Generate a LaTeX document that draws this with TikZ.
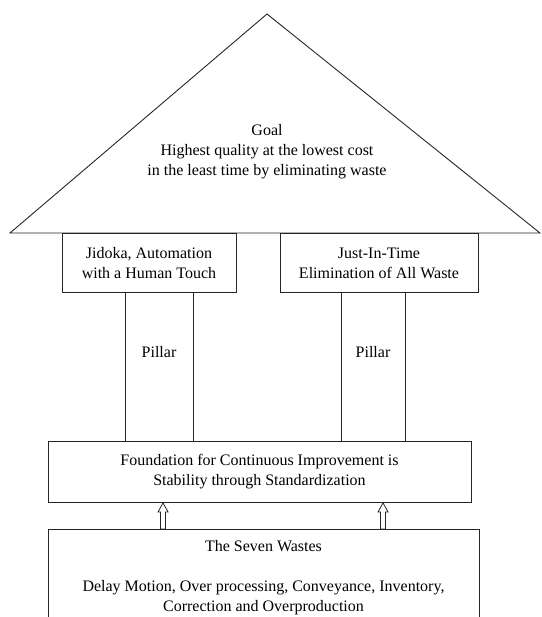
\documentclass[tikz,border=0pt]{standalone}
\usepackage{fontspec}
\setmainfont{Liberation Serif}
\usepackage{tikz}
\usetikzlibrary{positioning, calc}
\tikzset{
  line/.style={draw=black!85, line width=0.9pt},
  box/.style={line, align=center, inner sep=0pt,
    font=\fontsize{16}{20}\selectfont}
}

\begin{document}
\begin{tikzpicture}[x=1pt, y=-1pt]
    \useasboundingbox (0,0) rectangle (541,617);

    \coordinate (apex) at (267,14);
    \coordinate (eaveL) at (10,233);
    \coordinate (eaveR) at (540,233);
    \coordinate (a1) at (163,0);
    \coordinate (a2) at (383,0);

    % roof
    \draw [line, line join=miter] (eaveL) -- (apex) -- (eaveR) -- cycle;
    \node[align=center, font=\fontsize{16}{20}\selectfont] (goal) at (267,152) {Goal\\
      Highest quality at the lowest cost\\
      in the least time by eliminating waste};

    \node[box, minimum width=174pt, minimum height=59pt, anchor=north] (jidoka) at (149,233) {Jidoka, Automation\\
      with a Human Touch};
    \node[box, minimum width=198pt, minimum height=59pt, anchor=north] (jit) at (379,233) {Just-In-Time\\
      Elimination of All Waste};

    % pillars
    \node[box, minimum width=68pt, minimum height=149pt, anchor=north,
      label={[font=\fontsize{16}{20}\selectfont, yshift=15pt]center:Pillar}] (pillarL) at (159,292) {};
    \node[box, minimum width=64pt, minimum height=149pt, anchor=north,
      label={[font=\fontsize{16}{20}\selectfont, yshift=15pt]center:Pillar}] (pillarR) at (373,292) {};

    \node[box, minimum width=423pt, minimum height=61pt, anchor=north] (found) at (259.5,441) {Foundation for Continuous Improvement is\\
      Stability through Standardization};

    \node[box, minimum width=431pt, minimum height=96pt, anchor=north] (wastes) at (263.5,529) {The Seven Wastes\\[20pt]
      Delay Motion, Over processing, Conveyance, Inventory,\\
      Correction and Overproduction};

    % hollow arrows
    \foreach \a in {a1, a2}
      \draw [line, line width=0.8pt, fill=white] ($(wastes.north -| \a)+(-2.5,0)$) -- ++(0,-17) -- ++(-2.5,0)
        -- (found.south -| \a) -- ++(5,9) -- ++(-2.5,0) -- ++(0,17) -- cycle;
\end{tikzpicture}
\end{document}
